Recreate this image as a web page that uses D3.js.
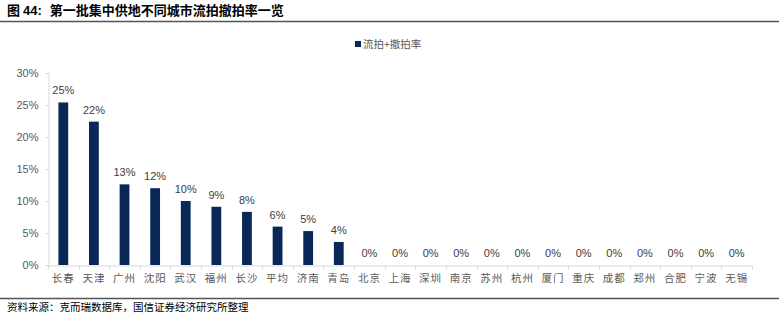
<!DOCTYPE html>
<html>
<head>
<meta charset="utf-8">
<script src="https://cdn.jsdelivr.net/npm/d3@7"></script>
<style>
  body { margin: 0; background: #fff; }
  svg { display: block; }
</style>
</head>
<body>
<svg id="chart" width="779" height="327"></svg>
<script>
// chart data
const cities = ['长春', '天津', '广州', '沈阳', '武汉', '福州', '长沙', '平均', '济南', '青岛',
	'北京', '上海', '深圳', '南京', '苏州', '杭州', '厦门', '重庆', '成都', '郑州', '合肥', '宁波', '无锡'];
const rates = [0.254, 0.224, 0.126, 0.120, 0.100, 0.091, 0.083, 0.060, 0.053, 0.036,
	0, 0, 0, 0, 0, 0, 0, 0, 0, 0, 0, 0, 0];
const yTicks = [0, 0.05, 0.10, 0.15, 0.20, 0.25, 0.30];
const seriesName = '流拍+撤拍率';
const title = '第一批集中供地不同城市流拍撤拍率一览';
const source = '资料来源：克而瑞数据库，国信证券经济研究所整理';

const W = 779, H = 327;
const cjk = '"Noto Sans CJK SC", "Noto Sans", sans-serif';
const latin = '"Liberation Sans", Arial, sans-serif';
const barColor = '#0a2857';
const axisColor = '#d9d9d9';
const textColor = '#595959';

const svg = d3.select('#chart');

// header
const head = svg.append('text')
	.attr('x', 7)
	.attr('y', 15)
	.attr('font-size', 13)
	.attr('font-weight', 'bold')
	.attr('fill', '#000');
head.append('tspan').attr('font-family', cjk).text('图 ');
head.append('tspan').attr('font-family', latin).text('44:');
head.append('tspan').attr('font-family', cjk).attr('dx', 8).text(title);

svg.append('line')
	.attr('x1', 0).attr('x2', W)
	.attr('y1', 21.5).attr('y2', 21.5)
	.attr('stroke', '#555')
	.attr('stroke-width', 1.5);

// plot area
const margin = { left: 48, right: 27, top: 73, bottom: 62 };
const x = d3.scaleBand()
	.domain(cities)
	.range([margin.left, W - margin.right])
	.paddingInner(0.68)
	.paddingOuter(0.34);
const y = d3.scaleLinear()
	.domain([0, 0.30])
	.range([H - margin.bottom, margin.top]);

// y axis
const yAxis = svg.append('g')
	.attr('transform', `translate(${margin.left + 0.5},0)`)
	.call(d3.axisLeft(y).tickValues(yTicks).tickFormat(d3.format('.0%')).tickSize(3).tickPadding(7));
yAxis.select('.domain').attr('stroke', axisColor);
yAxis.selectAll('.tick line').attr('stroke', axisColor);
yAxis.selectAll('.tick text')
	.attr('font-family', latin)
	.attr('font-size', 11)
	.attr('fill', textColor);

// bars
svg.append('g')
	.selectAll('rect')
	.data(rates)
	.join('rect')
	.attr('x', (_, i) => x(cities[i]))
	.attr('y', d => y(d))
	.attr('width', x.bandwidth())
	.attr('height', d => y(0) - y(d))
	.attr('fill', barColor);

// x axis
const xAxis = svg.append('g')
	.attr('transform', `translate(0,${y(0) + 0.5})`)
	.call(d3.axisBottom(x).tickSize(0).tickPadding(9));
xAxis.select('.domain').attr('stroke', axisColor);
xAxis.selectAll('.tick text')
	.attr('font-family', cjk)
	.attr('font-size', 10.5)
	.attr('letter-spacing', 1)
	.attr('fill', textColor);
// boundary ticks between categories
const step = x.step();
const edges = d3.range(cities.length + 1).map(i => margin.left + i * step);
xAxis.selectAll('.sep')
	.data(edges)
	.join('line')
	.attr('class', 'sep')
	.attr('x1', d => Math.round(d) + 0.5)
	.attr('x2', d => Math.round(d) + 0.5)
	.attr('y1', 0)
	.attr('y2', 4)
	.attr('stroke', axisColor);

// value labels
svg.append('g')
	.selectAll('text')
	.data(rates)
	.join('text')
	.attr('x', (_, i) => x(cities[i]) + x.bandwidth() / 2)
	.attr('y', d => y(d) - 8)
	.attr('text-anchor', 'middle')
	.attr('font-family', latin)
	.attr('font-size', 11)
	.attr('fill', '#404040')
	.text(d => d3.format('.0%')(d));

// legend
const legend = svg.append('g').attr('transform', 'translate(355,44)');
legend.append('rect')
	.attr('x', 0).attr('y', -3)
	.attr('width', 6).attr('height', 6)
	.attr('fill', barColor);
legend.append('text')
	.attr('x', 8)
	.attr('y', 4)
	.attr('font-family', cjk)
	.attr('font-size', 10.5)
	.attr('fill', textColor)
	.text(seriesName);

// footer
svg.append('line')
	.attr('x1', 0).attr('x2', W)
	.attr('y1', 298.5).attr('y2', 298.5)
	.attr('stroke', '#555')
	.attr('stroke-width', 1.5);
svg.append('text')
	.attr('x', 7)
	.attr('y', 311)
	.attr('font-family', cjk)
	.attr('font-size', 10.5)
	.attr('fill', '#000')
	.text(source);
</script>
</body>
</html>
